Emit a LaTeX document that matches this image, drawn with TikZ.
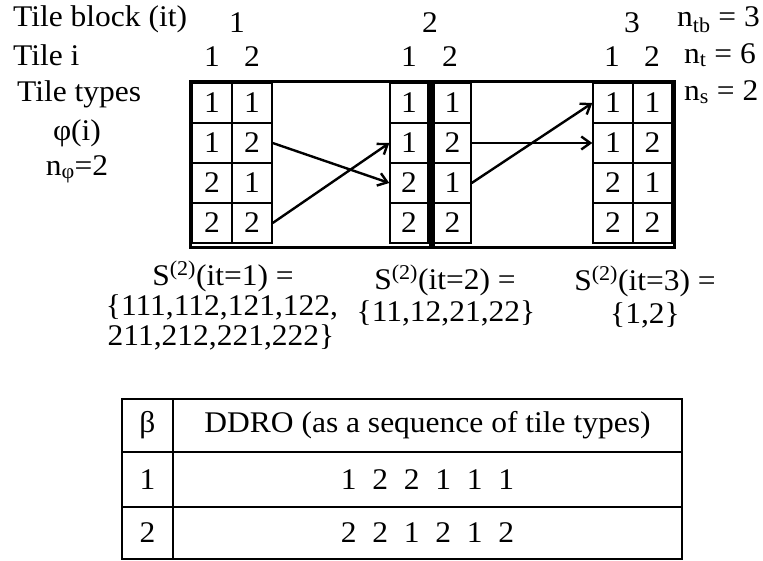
\documentclass[tikz,border=0pt]{standalone}
\usepackage{fontspec}
\setmainfont{Liberation Serif}[FakeStretch=1.05]
\usetikzlibrary{arrows.meta,positioning}

\begin{document}
\begin{tikzpicture}[x=1pt,y=-1pt,font=\fontsize{30}{34}\selectfont,
  lbl/.style={inner sep=0pt,anchor=base},
  tilecell/.style={draw,line width=1.4pt,minimum width=40pt,minimum height=40pt,inner sep=0pt},
  blockbox/.style={draw,line width=3pt},
  tabcell/.style={draw,line width=1.7pt,inner sep=0pt,outer sep=0pt,anchor=north west},
  move/.style={-{Straight Barb[length=9pt,width=13pt]},line width=2.4pt}]
  \useasboundingbox (0,0) rectangle (763,560);

  % row and column headings
  \node[lbl,anchor=base west] (hdblock) at (13,26) {Tile block (it)};
  \node[lbl,anchor=base west] (hdtile) at (13,65) {Tile i};
  \node[lbl,anchor=base west] (hdtype) at (17,101) {Tile types};
  \node[lbl] (hdphi) at (77,140) {φ(i)};
  \node[lbl] (hdnphi) at (77,175) {n\textsubscript{φ}=2};

  \node[lbl] (it1) at (237,32) {1};
  \node[lbl] (it2) at (430,32) {2};
  \node[lbl] (it3) at (632,32) {3};
  \node[lbl] (i1a) at (212,66) {1};
  \node[lbl] (i1b) at (252,66) {2};
  \node[lbl] (i2a) at (409,66) {1};
  \node[lbl] (i2b) at (450,66) {2};
  \node[lbl] (i3a) at (612,66) {1};
  \node[lbl] (i3b) at (652,66) {2};

  \node[lbl,anchor=base west] (ntb) at (677,26) {n\textsubscript{tb} = 3};
  \node[lbl,anchor=base west] (nt) at (684,63) {n\textsubscript{t} = 6};
  \node[lbl,anchor=base west] (ns) at (684,100) {n\textsubscript{s} = 2};

  % tile blocks
  \draw[blockbox] (190,81) rectangle (430,247);
  \draw[blockbox] (433,81) rectangle (674,247);

  \foreach \p/\q [count=\r] in {1/1,1/2,2/1,2/2} {
    \node[tilecell] (t1a\r) at (212,63+40*\r) {\p};
    \node[tilecell] (t1b\r) at (252,63+40*\r) {\q};
    \node[tilecell,minimum width=38pt] (t2a\r) at (409,63+40*\r) {\p};
    \node[tilecell,minimum width=37pt] (t2b\r) at (452.5,63+40*\r) {\q};
    \node[tilecell] (t3a\r) at (613,63+40*\r) {\p};
    \node[tilecell,minimum width=39pt] (t3b\r) at (652.5,63+40*\r) {\q};
  }

  \draw[move] (t1b2.east) -- (t2a3.west);
  \draw[move] (t1b4.east) -- (t2a2.west);
  \draw[move] (t2b2.east) -- (t3a2.west);
  \draw[move] (t2b3.east) -- (t3a1.west);

  % sets per tile block
  \node[lbl] (set1) at (223,285) {S\textsuperscript{(2)}(it=1) =};
  \node[lbl] (set1a) at (222,315) {\{111,112,121,122,};
  \node[lbl] (set1b) at (221,345) {211,212,221,222\}};
  \node[lbl] (set2) at (445,289) {S\textsuperscript{(2)}(it=2) =};
  \node[lbl] (set2a) at (446,321) {\{11,12,21,22\}};
  \node[lbl] (set3) at (645,290) {S\textsuperscript{(2)}(it=3) =};
  \node[lbl] (set3a) at (645,323) {\{1,2\}};

  % DDRO table
  \node[tabcell,minimum width=51pt,minimum height=53pt] (hbeta) at (122,399) {β};
  \node[tabcell,minimum width=509pt,minimum height=53pt] (hddro) at (hbeta.north east) {DDRO (as a sequence of tile types)};
  \node[tabcell,minimum width=51pt,minimum height=55pt] (r1beta) at (hbeta.south west) {1};
  \node[tabcell,minimum width=509pt,minimum height=55pt] (r1seq) at (r1beta.north east) {1~~2~~2~~1~~1~~1};
  \node[tabcell,minimum width=51pt,minimum height=52pt] (r2beta) at (r1beta.south west) {2};
  \node[tabcell,minimum width=509pt,minimum height=52pt] (r2seq) at (r2beta.north east) {2~~2~~1~~2~~1~~2};
\end{tikzpicture}
\end{document}
